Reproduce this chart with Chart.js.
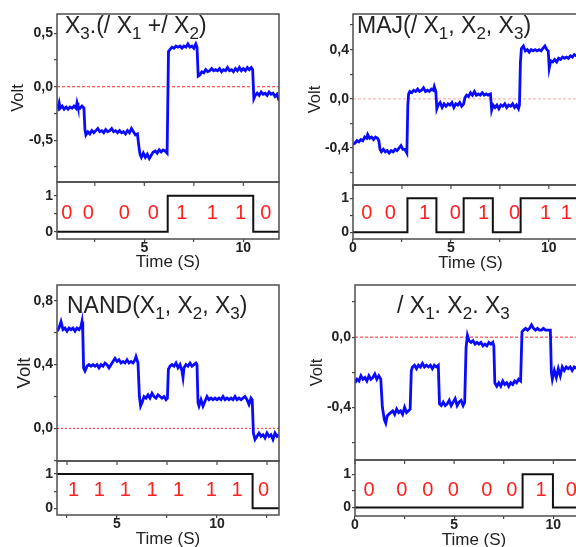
<!DOCTYPE html>
<html lang="en">
<head>
  <meta charset="UTF-8">
  <title>Logic gate outputs – Volt vs Time</title>
  <meta name="viewport" content="width=576, initial-scale=1" />
  <script src="https://cdn.jsdelivr.net/npm/chart.js"></script>
  <style>
    html,body{width:576px;height:547px;margin:0;padding:0;overflow:hidden;background:#fff;font-family:'Liberation Sans',Arial,sans-serif}
    #fig{position:relative;width:576px;height:547px;overflow:hidden}
    #fig canvas{position:absolute}
    .ttl{position:absolute;font-size:23px;line-height:1;color:#222;white-space:nowrap}
    .ttl sub{font-size:0.74em;line-height:0;vertical-align:-6px}
  </style>
</head>
<body>
<div id="fig"></div>

<script>
/********************  Data  ********************/
// panel 1 : X3.(/X1 + /X2)
const t1 = [0.59,0.65,0.7,0.75,0.85,0.95,1.05,1.15,1.25,1.35,1.45,1.55,1.6,1.65,1.75,1.85,1.95,
  2.0,2.05,2.15,2.25,2.35,2.45,2.55,2.65,2.75,2.85,2.95,3.05,3.15,3.25,3.35,3.45,3.55,3.65,3.75,3.85,3.95,4.05,4.15,4.25,4.35,4.45,4.55,4.65,
  4.72,4.78,4.85,4.95,5.05,5.15,5.25,5.35,5.45,5.55,5.65,5.75,5.85,5.95,6.05,6.15,
  6.22,6.3,6.4,6.5,6.6,6.7,6.8,6.9,7.0,7.1,7.2,7.3,7.4,7.5,7.6,7.66,
  7.72,7.8,7.9,8.0,8.1,8.2,8.3,8.4,8.5,8.6,8.7,8.8,8.9,9.0,9.1,9.2,9.3,9.4,9.5,9.6,9.7,9.8,9.9,10.0,10.1,10.2,10.3,10.4,10.47,
  10.53,10.6,10.7,10.8,10.9,11.0,11.1,11.2,11.3,11.4,11.5,11.6,11.7,11.8];
const v1 = [-0.16,-0.19,-0.15,-0.20,-0.18,-0.21,-0.19,-0.21,-0.19,-0.20,-0.18,-0.20,-0.15,-0.19,-0.20,-0.18,-0.20,
  -0.40,-0.45,-0.42,-0.44,-0.41,-0.43,-0.41,-0.39,-0.42,-0.41,-0.43,-0.40,-0.42,-0.41,-0.39,-0.42,-0.41,-0.43,-0.41,-0.43,-0.42,-0.44,-0.41,-0.43,-0.39,-0.42,-0.45,-0.44,
  -0.55,-0.63,-0.66,-0.62,-0.66,-0.63,-0.67,-0.64,-0.61,-0.60,-0.62,-0.59,-0.61,-0.59,-0.60,-0.62,
  0.33,0.35,0.37,0.36,0.38,0.37,0.38,0.36,0.38,0.37,0.40,0.37,0.38,0.36,0.40,0.37,
  0.10,0.11,0.14,0.13,0.16,0.14,0.15,0.17,0.15,0.16,0.15,0.17,0.14,0.16,0.15,0.18,0.15,0.16,0.14,0.17,0.15,0.18,0.15,0.17,0.15,0.18,0.16,0.18,0.16,
  -0.11,-0.08,-0.06,-0.08,-0.05,-0.07,-0.06,-0.08,-0.05,-0.07,-0.06,-0.09,-0.07,-0.13];
const bitT1 = [0.59,6.18,10.5,11.8];
const bitL1 = [0,1,0,0];
const digT1 = [1.08,2.17,3.99,5.45,6.89,8.43,9.86,11.13];
const digS1 = ['0','0','0','0','1','1','1','0'];

// panel 2 : MAJ(/X1, X2, X3)
const t2 = [0.0,0.1,0.2,0.3,0.4,0.5,0.6,0.7,0.75,0.85,0.95,1.05,1.15,1.25,1.32,
  1.38,1.45,1.55,1.65,1.75,1.85,1.95,2.05,2.15,2.25,2.35,2.45,2.55,2.65,2.75,
  2.8,2.84,2.9,3.0,3.1,3.2,3.3,3.4,3.5,3.6,3.7,3.8,3.9,4.0,4.1,4.15,4.23,
  4.28,4.35,4.45,4.55,4.65,4.75,4.85,4.95,5.05,5.15,5.25,5.35,5.45,5.55,5.65,
  5.72,5.8,5.9,6.0,6.1,6.2,6.3,6.4,6.5,6.6,6.7,6.8,6.9,7.02,
  7.08,7.15,7.25,7.35,7.45,7.55,7.65,7.75,7.85,7.95,8.05,8.15,8.25,8.35,8.45,8.5,
  8.55,8.6,8.7,8.8,8.9,9.0,9.1,9.2,9.3,9.4,9.5,9.6,9.7,9.8,9.9,9.97,
  10.02,10.1,10.2,10.3,10.4,10.5,10.6,10.7,10.8,10.9,11.0,11.1,11.2,11.3,11.4,11.5,11.7,12.0];
const v2 = [-0.37,-0.36,-0.34,-0.35,-0.33,-0.34,-0.31,-0.32,-0.29,-0.32,-0.31,-0.33,-0.31,-0.32,-0.34,
  -0.41,-0.43,-0.41,-0.43,-0.42,-0.44,-0.42,-0.43,-0.41,-0.42,-0.40,-0.38,-0.41,-0.41,-0.44,
  -0.05,0.04,0.06,0.05,0.07,0.06,0.08,0.06,0.07,0.09,0.06,0.07,0.06,0.08,0.07,0.10,0.06,
  -0.08,-0.05,-0.03,-0.07,-0.04,-0.06,-0.04,-0.05,-0.03,-0.07,-0.04,-0.05,-0.03,-0.06,-0.04,
  0.01,0.03,0.02,0.05,0.03,0.06,0.03,0.04,0.03,0.05,0.03,0.04,0.03,0.04,
  -0.09,-0.05,-0.07,-0.05,-0.08,-0.05,-0.06,-0.04,-0.07,-0.05,-0.06,-0.04,-0.07,-0.05,-0.08,-0.05,
  0.30,0.41,0.43,0.39,0.40,0.38,0.40,0.39,0.40,0.39,0.40,0.39,0.41,0.43,0.40,0.39,
  0.25,0.31,0.30,0.32,0.30,0.33,0.32,0.34,0.33,0.34,0.33,0.35,0.34,0.36,0.35,0.37,0.36,0.37];
const bitT2 = [0,2.78,4.26,5.65,7.14,8.56,12];
const bitL2 = [0,1,0,1,0,1,1];
const digT2 = [0.71,1.91,3.66,5.22,6.67,8.25,9.83,10.89];
const digS2 = ['0','0','1','0','1','0','1','1'];

// panel 3 : NAND(X1, X2, X3)
const t3 = [2.0,2.1,2.2,2.3,2.4,2.5,2.6,2.7,2.8,2.9,3.0,3.1,3.2,3.25,3.29,
  3.33,3.4,3.5,3.6,3.7,3.8,3.9,4.0,4.1,4.2,4.3,4.4,4.5,4.6,4.7,4.8,4.9,5.0,5.1,5.2,5.3,5.4,5.5,5.6,5.7,5.8,5.9,5.95,6.05,
  6.12,6.18,6.25,6.35,6.45,6.55,6.65,6.75,6.85,6.95,7.05,7.15,7.25,7.35,7.45,7.52,
  7.57,7.65,7.75,7.85,7.95,8.05,8.15,8.25,8.3,8.35,8.45,8.55,8.65,8.75,8.85,8.95,9.0,
  9.05,9.1,9.2,9.3,9.4,9.5,9.6,9.7,9.8,9.9,10.0,10.1,10.2,10.3,10.4,10.5,10.6,10.7,10.8,10.9,11.0,11.1,11.2,11.3,11.4,11.5,11.6,11.7,11.76,
  11.82,11.9,12.0,12.1,12.2,12.3,12.4,12.5,12.6,12.7,12.8,12.9,13.0,13.1];
const v3 = [0.61,0.63,0.67,0.62,0.63,0.61,0.63,0.62,0.63,0.61,0.63,0.62,0.64,0.67,0.60,
  0.38,0.36,0.39,0.40,0.39,0.40,0.39,0.40,0.38,0.40,0.39,0.41,0.40,0.38,0.40,0.42,0.44,0.42,0.43,0.41,0.42,0.41,0.43,0.41,0.42,0.41,0.43,0.45,0.41,
  0.20,0.14,0.16,0.20,0.19,0.21,0.19,0.22,0.20,0.19,0.21,0.20,0.19,0.20,0.18,0.19,
  0.37,0.39,0.40,0.39,0.41,0.38,0.40,0.36,0.32,0.38,0.40,0.39,0.41,0.39,0.40,0.41,0.40,
  0.16,0.14,0.18,0.14,0.17,0.20,0.18,0.19,0.18,0.19,0.18,0.19,0.18,0.20,0.18,0.19,0.18,0.19,0.18,0.20,0.18,0.19,0.18,0.19,0.20,0.18,0.15,0.19,0.18,
  -0.03,-0.07,-0.05,-0.03,-0.05,-0.04,-0.06,-0.03,-0.05,-0.04,-0.07,-0.03,-0.05,-0.04];
const bitT3 = [2.0,11.78,13.1];
const bitL3 = [1,0,0];
const digT3 = [2.83,4.12,5.42,6.75,8.08,9.72,11.0,12.33];
const digS3 = ['1','1','1','1','1','1','1','0'];

// panel 4 : /X1.X2.X3
const t4 = [0.0,0.1,0.2,0.3,0.4,0.5,0.6,0.7,0.8,0.9,1.0,1.1,1.2,1.3,
  1.38,1.48,1.55,1.62,1.7,1.8,1.9,2.0,2.1,2.2,2.3,2.4,2.5,2.6,2.7,2.78,
  2.84,2.9,3.0,3.1,3.2,3.3,3.4,3.5,3.6,3.7,3.8,3.9,4.0,4.1,4.2,
  4.26,4.35,4.45,4.55,4.65,4.75,4.85,4.95,5.05,5.15,5.25,5.35,5.45,5.53,
  5.6,5.67,5.75,5.85,5.95,6.05,6.15,6.25,6.35,6.45,6.55,6.65,6.75,6.85,6.95,7.0,
  7.05,7.15,7.25,7.35,7.45,7.55,7.65,7.75,7.85,7.95,8.05,8.15,8.25,8.35,
  8.42,8.5,8.6,8.7,8.8,8.9,9.0,9.1,9.2,9.3,9.4,9.5,9.6,9.7,9.85,
  9.9,9.95,10.05,10.15,10.25,10.35,10.45,10.55,10.65,10.75,10.85,10.95,11.05,11.2,11.4,11.6,12.0];
const v4 = [-0.26,-0.24,-0.25,-0.22,-0.24,-0.23,-0.25,-0.22,-0.24,-0.23,-0.21,-0.24,-0.22,-0.24,
  -0.40,-0.47,-0.49,-0.45,-0.44,-0.43,-0.42,-0.44,-0.41,-0.43,-0.42,-0.44,-0.40,-0.43,-0.42,-0.41,
  -0.19,-0.17,-0.16,-0.18,-0.16,-0.17,-0.15,-0.17,-0.16,-0.17,-0.16,-0.18,-0.16,-0.17,-0.16,
  -0.38,-0.39,-0.37,-0.39,-0.38,-0.36,-0.39,-0.37,-0.35,-0.39,-0.37,-0.36,-0.39,-0.37,
  -0.06,0.01,-0.02,-0.03,-0.02,-0.04,-0.03,-0.04,-0.03,-0.05,-0.04,-0.05,-0.03,-0.04,-0.03,-0.05,
  -0.26,-0.28,-0.26,-0.28,-0.25,-0.27,-0.26,-0.28,-0.26,-0.27,-0.25,-0.26,-0.24,-0.25,
  0.03,0.04,0.05,0.04,0.05,0.07,0.05,0.04,0.05,0.04,0.04,0.05,0.04,0.04,0.04,
  -0.20,-0.24,-0.19,-0.23,-0.18,-0.22,-0.17,-0.19,-0.17,-0.18,-0.17,-0.19,-0.17,-0.18,-0.17,-0.18,-0.18];
const bitT4 = [0,8.45,9.98,12];
const bitL4 = [0,1,0,0];
const digT4 = [0.71,2.36,3.67,4.96,6.65,7.91,9.38,10.91];
const digS4 = ['0','0','0','0','0','0','1','0'];

/********************  Helpers  ********************/
Chart.defaults.font.family = "'Liberation Sans', Arial, sans-serif";
Chart.defaults.color = '#222';
const tickFont = {size:14, weight:'bold'};

function comma(v){ if(Math.abs(v)<1e-9) v=0; return v.toFixed(1).replace('.',','); }
function isStep(v,s){ return Math.abs(v/s-Math.round(v/s))<1e-6; }
function pts(t,v){ return t.map((x,i)=>({x:x,y:v[i]})); }

function addCanvas(x,y,w,h){
  const c=document.createElement('canvas');
  c.width=w;c.height=h;
  c.style.left=x+'px';c.style.top=y+'px';c.style.width=w+'px';c.style.height=h+'px';
  document.getElementById('fig').appendChild(c);
  return c;
}

// box around the plot, inward ticks on the shared edge, red bit digits
const frame={
  id:'frame',
  afterDraw(chart,args,o){
    const ctx=chart.ctx,a=chart.chartArea,x=chart.scales.x,y=chart.scales.y;
    ctx.save();
    if(o.digits){
      ctx.fillStyle='#ff1f1f';
      ctx.font="20px 'Liberation Sans', Arial, sans-serif";
      ctx.textAlign='center';ctx.textBaseline='alphabetic';
      o.digits.t.forEach((t,i)=>ctx.fillText(o.digits.s[i],x.getPixelForValue(t),y.getPixelForValue(o.digits.y)+7));
    }
    ctx.strokeStyle='#4d4d4d';ctx.lineWidth=1.5;
    ctx.strokeRect(a.left,a.top,a.right-a.left,a.bottom-a.top);
    if(o.topTicks){
      ctx.lineWidth=1.2;
      x.ticks.forEach(tk=>{const px=x.getPixelForValue(tk.value);ctx.beginPath();ctx.moveTo(px,a.top);ctx.lineTo(px,a.top+4);ctx.stroke();});
    }
    ctx.restore();
  }
};

/********************  Upper plot (Volt)  ********************/
function topChart(p){
  const cy=p.top-6,ch=p.bottom+2-cy;
  const c=addCanvas(p.cx,cy,p.cw,ch);
  new Chart(c,{
    type:'line',
    data:{datasets:[
      {data:pts(p.t,p.v),borderColor:'#0a0aff',borderWidth:2.8,pointRadius:0,tension:0},
      {data:[{x:p.xmin,y:0},{x:p.xmax,y:0}],borderColor:p.zeroColor,borderWidth:1,borderDash:p.zeroDash,pointRadius:0}
    ]},
    options:{
      responsive:false,animation:false,events:[],
      layout:{padding:{left:0,top:p.top-cy,right:p.cx+p.cw-p.right,bottom:2}},
      plugins:{legend:{display:false},tooltip:{enabled:false},frame:{}},
      scales:{
        x:{type:'linear',min:p.xmin,max:p.xmax,ticks:{display:false},grid:{display:false,drawTicks:false},border:{display:false},
           afterFit:s=>{s.height=0;s.paddingLeft=0;s.paddingRight=0;}},
        y:{min:p.ymin,max:p.ymax,
           ticks:{stepSize:p.ystep,includeBounds:false,autoSkip:false,font:tickFont,color:'#222',padding:1,callback:v=>isStep(v,p.ymajor)?comma(v):''},
           grid:{drawOnChartArea:false,tickLength:3,color:'#444',lineWidth:1.2},border:{display:false},
           title:{display:true,text:'Volt',font:{size:p.voltSize},color:'#222',padding:{top:p.voltPad,bottom:0}},
           afterFit:s=>{s.width=p.left-p.cx;s.paddingTop=0;s.paddingBottom=0;}}
      }
    },
    plugins:[frame]
  });
}

/********************  Lower plot (bits)  ********************/
function bottomChart(p){
  const cy=p.top-6,ch=p.canvasBottom-cy;
  const c=addCanvas(p.cx,cy,p.cw,ch);
  new Chart(c,{
    type:'line',
    data:{datasets:[
      {data:pts(p.bt,p.bl),borderColor:'#111',borderWidth:2,pointRadius:0,stepped:'before'}
    ]},
    options:{
      responsive:false,animation:false,events:[],
      layout:{padding:{left:0,top:p.top-cy,right:p.cx+p.cw-p.right,bottom:0}},
      plugins:{legend:{display:false},tooltip:{enabled:false},
        frame:{topTicks:true,digits:{t:p.dt,s:p.ds,y:p.dy}}},
      scales:{
        x:{type:'linear',min:p.xmin,max:p.xmax,
           ticks:{stepSize:2.5,includeBounds:false,autoSkip:false,maxRotation:0,font:tickFont,color:'#222',padding:-2,callback:v=>isStep(v,5)?String(v):''},
           grid:{drawOnChartArea:false,tickLength:3,color:'#444',lineWidth:1.2},border:{display:false},
           title:{display:true,text:'Time (S)',font:{size:17},color:'#222',padding:{top:0,bottom:p.titlePad}},
           afterFit:s=>{s.height=p.canvasBottom-p.bottom;s.paddingLeft=0;s.paddingRight=0;}},
        y:{min:p.ymin,max:p.ymax,
           ticks:{stepSize:0.5,includeBounds:false,autoSkip:false,font:tickFont,color:'#222',padding:1,callback:v=>isStep(v,1)?String(v):''},
           grid:{drawOnChartArea:false,tickLength:3,color:'#444',lineWidth:1.2},border:{display:false},
           afterFit:s=>{s.width=p.left-p.cx;s.paddingTop=0;s.paddingBottom=0;}}
      }
    },
    plugins:[frame]
  });
}

/********************  Panels  ********************/
const red='rgba(255,0,0,0.85)';
topChart({cx:0,cw:290,left:57,right:279,top:14,bottom:182,xmin:0.59,xmax:11.8,ymin:-0.89,ymax:0.68,ystep:0.25,ymajor:0.5,t:t1,v:v1,voltPad:9,voltSize:16.5,zeroColor:red,zeroDash:[3,2]});
bottomChart({cx:0,cw:290,left:57,right:279,top:182,bottom:239,canvasBottom:275,titlePad:2,xmin:0.59,xmax:11.8,ymin:-0.2,ymax:1.38,bt:bitT1,bl:bitL1,dt:digT1,ds:digS1,dy:0.54});

topChart({cx:290,cw:310,left:353,right:588,top:14,bottom:185,xmin:0,xmax:12,ymin:-0.7,ymax:0.69,ystep:0.2,ymajor:0.4,t:t2,v:v2,voltPad:15.5,voltSize:16.5,zeroColor:'rgba(255,90,90,0.55)',zeroDash:[3,2]});
bottomChart({cx:290,cw:310,left:353,right:588,top:185,bottom:239,canvasBottom:276,titlePad:2.5,xmin:0,xmax:12,ymin:-0.2,ymax:1.39,bt:bitT2,bl:bitL2,dt:digT2,ds:digS2,dy:0.59});

topChart({cx:0,cw:290,left:57,right:279,top:285,bottom:461,xmin:2,xmax:13.1,ymin:-0.205,ymax:0.9,ystep:0.2,ymajor:0.4,t:t3,v:v3,voltPad:13.8,voltSize:18.5,zeroColor:red,zeroDash:[2,2]});
bottomChart({cx:0,cw:290,left:57,right:279,top:461,bottom:515,canvasBottom:552,titlePad:2.5,xmin:2,xmax:13.1,ymin:-0.195,ymax:1.38,bt:bitT3,bl:bitL3,dt:digT3,ds:digS3,dy:0.557});

topChart({cx:290,cw:310,left:355,right:593,top:285,bottom:460,xmin:0,xmax:12,ymin:-0.7,ymax:0.297,ystep:0.2,ymajor:0.4,t:t4,v:v4,voltPad:18,voltSize:16.5,zeroColor:red,zeroDash:[3,2]});
bottomChart({cx:290,cw:310,left:355,right:593,top:460,bottom:516,canvasBottom:552,titlePad:1.8,xmin:0,xmax:12,ymin:-0.26,ymax:1.43,bt:bitT4,bl:bitL4,dt:digT4,ds:digS4,dy:0.55});

/********************  Titles  ********************/
const titles=[
  {x:65,y:14,html:'X<sub>3</sub>.(/ X<sub>1</sub> +/ X<sub>2</sub>)'},
  {x:357,y:14,html:'MAJ(/ X<sub>1</sub>, X<sub>2</sub>, X<sub>3</sub>)'},
  {x:67,y:294,html:'NAND(X<sub>1</sub>, X<sub>2</sub>, X<sub>3</sub>)'},
  {x:397,y:294,html:'/ X<sub>1</sub>. X<sub>2</sub>. X<sub>3</sub>'}
];
titles.forEach(tt=>{
  const d=document.createElement('div');
  d.className='ttl';d.style.left=tt.x+'px';d.style.top=tt.y+'px';d.innerHTML=tt.html;
  document.getElementById('fig').appendChild(d);
});
</script>
</body>
</html>
